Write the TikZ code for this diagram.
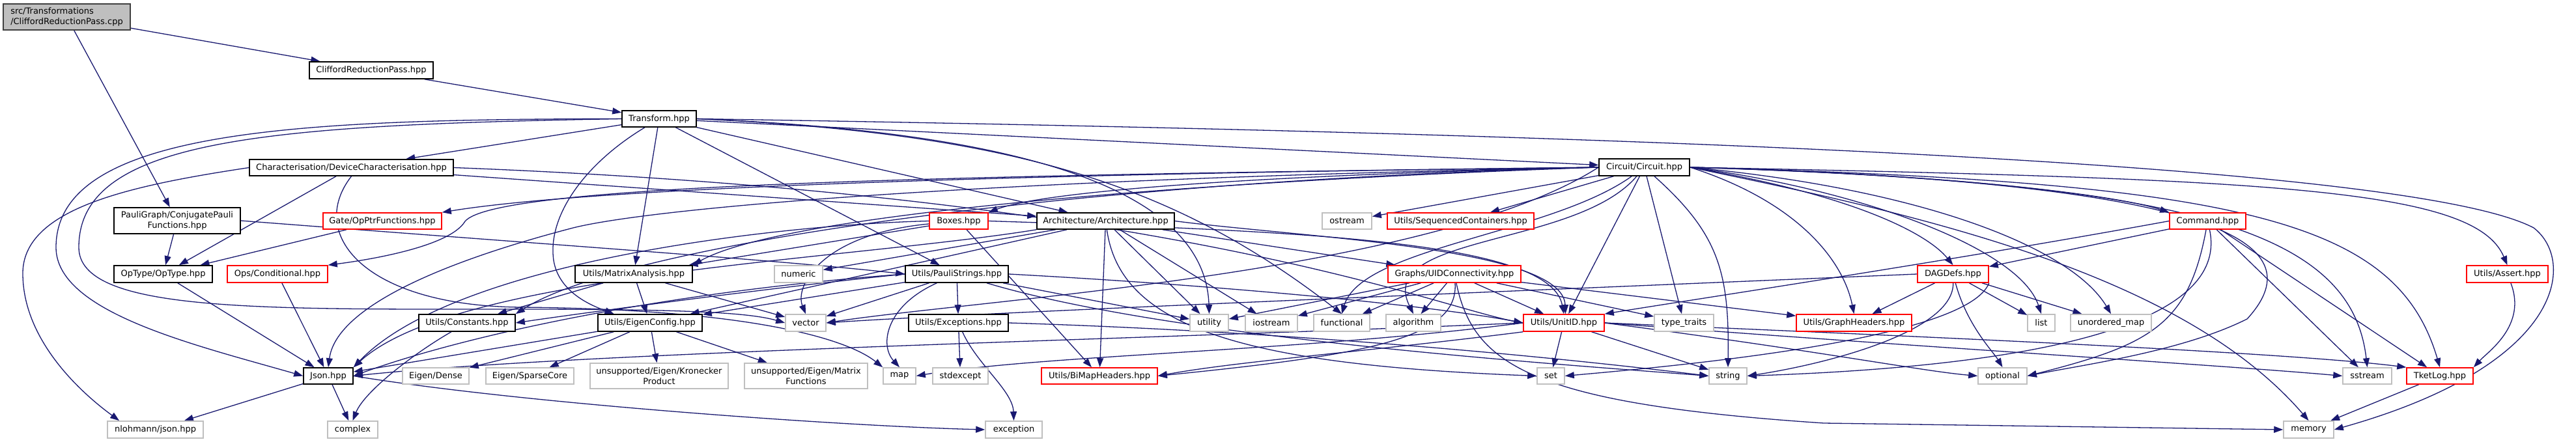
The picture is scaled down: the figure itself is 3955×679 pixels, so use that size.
\documentclass[tikz,border=0pt]{standalone}
\usepackage{fontspec}
\setmainfont{DejaVu Sans}
\usetikzlibrary{arrows.meta}
\pgfdeclarelayer{back}
\pgfdeclarelayer{bg}
\pgfsetlayers{back,bg,main}
\definecolor{edgec}{HTML}{191970}
\definecolor{redc}{HTML}{FF0000}
\definecolor{grayc}{HTML}{BFBFBF}
\begin{document}
\begin{tikzpicture}[x=1pt,y=1pt,
  n/.style={draw=black, line width=1.6pt, fill=white, inner sep=0pt, font=\fontsize{13}{15.5}\selectfont, align=center, text=black},
  rn/.style={n, draw=redc},
  gn/.style={n, draw=grayc},
  rootn/.style={n, fill=grayc, draw=black!75, align=left},
  e/.style={draw=edgec, line width=1.3pt, -{Triangle[length=14pt,width=10pt]}}]
\useasboundingbox (0,0) rectangle (3955,-679);
\begin{pgfonlayer}{back}
\fill[white] (0,0) rectangle (3955,-679);
\end{pgfonlayer}
% row 1-4
\node[rootn, minimum width=195pt, minimum height=40pt] (cpp) at (102.5,-26) {src/Transformations\\/CliffordReductionPass.cpp};
\node[n, minimum width=190pt, minimum height=26pt] (crph) at (570,-108) {CliffordReductionPass.hpp};
\node[n, minimum width=114pt, minimum height=25pt] (transform) at (1012,-182.5) {Transform.hpp};
\node[n, minimum width=313pt, minimum height=25pt] (devchar) at (539.5,-257.5) {Characterisation/DeviceCharacterisation.hpp};
\node[n, minimum width=139pt, minimum height=26pt] (circuit) at (2524.5,-257) {Circuit/Circuit.hpp};
% row 5
\node[n, minimum width=194pt, minimum height=40pt] (pgcpf) at (272,-339) {PauliGraph/ConjugatePauli\\Functions.hpp};
\node[rn, minimum width=182pt, minimum height=25pt] (opptr) at (587,-339.5) {Gate/OpPtrFunctions.hpp};
\node[rn, minimum width=90pt, minimum height=25pt] (boxes) at (1472,-339.5) {Boxes.hpp};
\node[n, minimum width=211pt, minimum height=25pt] (arch) at (1697.5,-339.5) {Architecture/Architecture.hpp};
\node[gn, minimum width=76pt, minimum height=25pt] (ostream) at (2068,-339.5) {ostream};
\node[rn, minimum width=225pt, minimum height=25pt] (seqc) at (2242.5,-339.5) {Utils/SequencedContainers.hpp};
\node[rn, minimum width=117pt, minimum height=25pt] (command) at (3389.5,-339.5) {Command.hpp};
% row 6
\node[n, minimum width=151pt, minimum height=26pt] (optype) at (250.5,-421) {OpType/OpType.hpp};
\node[rn, minimum width=154pt, minimum height=26pt] (cond) at (426,-421) {Ops/Conditional.hpp};
\node[n, minimum width=180pt, minimum height=26pt] (matan) at (973,-421) {Utils/MatrixAnalysis.hpp};
\node[gn, minimum width=74pt, minimum height=26pt] (numeric) at (1226,-421) {numeric};
\node[n, minimum width=158pt, minimum height=26pt] (pauli) at (1469,-421) {Utils/PauliStrings.hpp};
\node[rn, minimum width=204pt, minimum height=26pt] (uidc) at (2233,-421) {Graphs/UIDConnectivity.hpp};
\node[rn, minimum width=109pt, minimum height=26pt] (dag) at (2998.5,-421) {DAGDefs.hpp};
\node[rn, minimum width=125pt, minimum height=26pt] (assert) at (3849.5,-421) {Utils/Assert.hpp};
% row 7
\node[n, minimum width=148pt, minimum height=26pt] (consts) at (717,-496) {Utils/Constants.hpp};
\node[n, minimum width=160pt, minimum height=26pt] (eigcfg) at (998,-496) {Utils/EigenConfig.hpp};
\node[gn, minimum width=62pt, minimum height=26pt] (vector) at (1237,-496) {vector};
\node[n, minimum width=153pt, minimum height=26pt] (except) at (1471.5,-496) {Utils/Exceptions.hpp};
\node[gn, minimum width=59pt, minimum height=26pt] (utility) at (1856.5,-496) {utility};
\node[gn, minimum width=80pt, minimum height=26pt] (iostream) at (1952,-496) {iostream};
\node[gn, minimum width=86pt, minimum height=26pt] (functional) at (2060,-496) {functional};
\node[gn, minimum width=84pt, minimum height=26pt] (algorithm) at (2170,-496) {algorithm};
\node[rn, minimum width=124pt, minimum height=26pt] (unitid) at (2401,-496) {Utils/UnitID.hpp};
\node[gn, minimum width=91pt, minimum height=26pt] (typetraits) at (2585.5,-496) {type\_traits};
\node[rn, minimum width=177pt, minimum height=26pt] (graphh) at (2846.5,-496) {Utils/GraphHeaders.hpp};
\node[gn, minimum width=42pt, minimum height=26pt] (list) at (3134,-496) {list};
\node[gn, minimum width=124pt, minimum height=26pt] (umap) at (3241,-496) {unordered\_map};
% row 8
\node[n, minimum width=76pt, minimum height=25pt] (json) at (504,-577.5) {Json.hpp};
\node[gn, minimum width=102pt, minimum height=25pt] (edense) at (669,-577.5) {Eigen/Dense};
\node[gn, minimum width=135pt, minimum height=25pt] (esparse) at (813.5,-577.5) {Eigen/SparseCore};
\node[gn, minimum width=212pt, minimum height=39pt] (ekron) at (1012,-577.5) {unsupported/Eigen/Kronecker\\Product};
\node[gn, minimum width=189pt, minimum height=39pt] (emfun) at (1237.5,-577.5) {unsupported/Eigen/Matrix\\Functions};
\node[gn, minimum width=50pt, minimum height=25pt] (map) at (1381,-577.5) {map};
\node[gn, minimum width=85pt, minimum height=25pt] (stdexcept) at (1474.5,-577.5) {stdexcept};
\node[rn, minimum width=178pt, minimum height=25pt] (bimap) at (1688,-577.5) {Utils/BiMapHeaders.hpp};
\node[gn, minimum width=42pt, minimum height=25pt] (set) at (2381,-577.5) {set};
\node[gn, minimum width=58pt, minimum height=25pt] (string) at (2653,-577.5) {string};
\node[gn, minimum width=75pt, minimum height=25pt] (optional) at (3074.5,-577.5) {optional};
\node[gn, minimum width=75pt, minimum height=25pt] (sstream) at (3634.5,-577.5) {sstream};
\node[rn, minimum width=102pt, minimum height=25pt] (tketlog) at (3746,-577.5) {TketLog.hpp};
% row 9
\node[gn, minimum width=147pt, minimum height=26pt] (nlohmann) at (238.5,-660) {nlohmann/json.hpp};
\node[gn, minimum width=77pt, minimum height=26pt] (complex) at (541.5,-660) {complex};
\node[gn, minimum width=87pt, minimum height=26pt] (exception) at (1556.5,-660) {exception};
\node[gn, minimum width=77pt, minimum height=26pt] (memory) at (3544.5,-660) {memory};

\begin{pgfonlayer}{bg}
% root
\draw[e] (cpp) -- (crph);
\draw[e] (cpp) -- (pgcpf);
\draw[e] (crph) -- (transform);
% Transform
\draw[e] (transform) -- (devchar);
\draw[e] (transform) -- (circuit);
\draw[e] (transform) -- (arch);
\draw[e] (transform) -- (matan);
\draw[e] (transform) -- (pauli);
\draw[e] (transform.west) .. controls (450,-183) and (86,-200) .. (86,-380) .. controls (86,-480) and (300,-530) .. (json.west);
\draw[e] (transform.west) .. controls (400,-192) and (121,-215) .. (121,-380) .. controls (121,-480) and (400,-475) .. (800,-475) .. controls (1050,-475) and (1150,-480) .. (vector.west);
\draw[e] (transform.east) .. controls (1500,-200) and (1850,-270) .. (utility.north);
\draw[e] (transform.east) .. controls (1550,-205) and (1800,-280) .. (functional.north);
\draw[e] (transform.east) .. controls (2500,-205) and (3700,-250) .. (3890,-350) .. controls (3955,-400) and (3940,-560) .. (memory.east);
\draw[e] (transform) .. controls (900,-250) and (840,-330) .. (850,-400) .. controls (858,-450) and (910,-470) .. (eigcfg.166);
% DeviceCharacterisation
\draw[e] (devchar) -- (arch);
\draw[e] (devchar.east) .. controls (1800,-300) and (2200,-470) .. (unitid.west);
\draw[e] (devchar) -- (optype);
\draw[e] (devchar.south) .. controls (470,-360) and (560,-470) .. (800,-472) .. controls (1150,-475) and (1300,-520) .. (map.north west);
\draw[e] (devchar.west) .. controls (200,-285) and (35,-320) .. (35,-420) .. controls (35,-520) and (120,-600) .. (nlohmann.166);
% PauliGraph / Gate / Ops / OpType
\draw[e] (pgcpf) -- (optype);
\draw[e] (pgcpf.east) .. controls (900,-380) and (1200,-400) .. (pauli.west);
\draw[e] (opptr) -- (optype);
\draw[e] (optype) -- (json);
\draw[e] (cond) -- (json);
% Circuit
\draw[e] (circuit.west) .. controls (1900,-270) and (1600,-295) .. (boxes.north east);
\draw[e] (circuit.west) .. controls (1500,-268) and (900,-290) .. (opptr.north east);
\draw[e] (circuit.west) .. controls (1400,-270) and (760,-285) .. (714,-340) .. controls (690,-380) and (560,-400) .. (cond.north east);
\draw[e] (circuit.west) .. controls (1500,-275) and (1000,-320) .. (880,-350) .. controls (650,-410) and (515,-480) .. (json.north);
\draw[e] (circuit.west) .. controls (1600,-280) and (950,-380) .. (consts.north east);
\draw[e] (circuit.west) .. controls (1800,-280) and (1200,-330) .. (matan.north east);
\draw[e] (circuit) -- (unitid);
\draw[e] (circuit) -- (typetraits);
\draw[e] (circuit) .. controls (2640,-360) and (2655,-420) .. (string.north);
\draw[e] (circuit.east) .. controls (2760,-310) and (2830,-400) .. (graphh.north);
\draw[e] (circuit.east) .. controls (2850,-300) and (2960,-360) .. (dag.north);
\draw[e] (circuit.east) .. controls (3000,-268) and (3250,-300) .. (command.north west);
\draw[e] (circuit.east) .. controls (3500,-275) and (3800,-290) .. (assert.north);
\draw[e] (circuit.east) .. controls (3450,-280) and (3680,-340) .. (tketlog.north);
\draw[e] (circuit.east) .. controls (3350,-280) and (3610,-350) .. (sstream.north);
\draw[e] (circuit.east) .. controls (3400,-280) and (3560,-370) .. (3450,-490) .. controls (3350,-540) and (3200,-560) .. (optional.east);
\draw[e] (circuit.east) .. controls (2950,-330) and (3350,-420) .. (memory.north);
\draw[e] (circuit.east) .. controls (2850,-290) and (3100,-380) .. (list.north);
\draw[e] (circuit.east) .. controls (2950,-290) and (3180,-380) .. (umap.north);
\draw[e] (circuit) -- (ostream);
\draw[e] (circuit) -- (seqc);
\draw[e] (circuit) .. controls (2420,-380) and (2110,-360) .. (algorithm.north);
\draw[e] (circuit) .. controls (2380,-360) and (2090,-380) .. (functional.north);
\draw[e] (circuit.west) .. controls (2200,-420) and (1500,-460) .. (vector.east);
% Boxes
\draw[e] (boxes) -- (matan);
\draw[e] (boxes) -- (bimap);
\draw[e] (boxes) .. controls (1260,-360) and (1220,-440) .. (vector.north);
\draw[e] (boxes.west) .. controls (1200,-345) and (700,-400) .. (json.north east);
\draw[e] (boxes.east) .. controls (2000,-355) and (2380,-370) .. (unitid.north);
% Architecture
\draw[e] (arch.east) .. controls (2000,-365) and (2400,-380) .. (unitid.80);
\draw[e] (arch) -- (uidc);
\draw[e] (arch) -- (utility);
\draw[e] (arch) -- (iostream);
\draw[e] (arch) -- (bimap);
\draw[e] (arch) -- (numeric);
\draw[e] (arch) -- (eigcfg);
\draw[e] (arch.south west) .. controls (1300,-400) and (700,-420) .. (json.north east);
\draw[e] (arch) .. controls (1720,-500) and (1900,-560) .. (set.west);
% MatrixAnalysis
\draw[e] (matan) -- (consts);
\draw[e] (matan) -- (eigcfg);
\draw[e] (matan) -- (vector);
% PauliStrings
\draw[e] (pauli) -- (eigcfg);
\draw[e] (pauli) -- (vector);
\draw[e] (pauli) -- (except);
\draw[e] (pauli) .. controls (1360,-470) and (1350,-530) .. (map.north);
\draw[e] (pauli) -- (utility);
\draw[e] (pauli.east) .. controls (1900,-440) and (2200,-470) .. (unitid.west);
\draw[e] (pauli.west) .. controls (1000,-450) and (700,-520) .. (json.east);
\draw[e] (pauli.west) .. controls (1200,-440) and (900,-480) .. (consts.east);
\draw[e] (pauli) .. controls (1800,-520) and (2400,-560) .. (string.west);
% Exceptions
\draw[e] (except) -- (stdexcept);
\draw[e] (except) .. controls (1500,-560) and (1555,-600) .. (exception.north);
\draw[e] (except.east) .. controls (2000,-510) and (2400,-550) .. (string.west);
% UIDConnectivity
\draw[e] (uidc) -- (functional);
\draw[e] (uidc) -- (algorithm);
\draw[e] (uidc) -- (unitid);
\draw[e] (uidc) -- (typetraits);
\draw[e] (uidc) -- (graphh);
\draw[e] (uidc) -- (iostream);
\draw[e] (uidc) -- (utility);
\draw[e] (uidc) .. controls (2240,-520) and (2100,-545) .. (bimap.east);
\draw[e] (uidc) .. controls (2262,-560) and (2350,-620) .. (2800,-650) -- (memory.west);
% UnitID
\draw[e] (unitid) -- (set);
\draw[e] (unitid) -- (string);
\draw[e] (unitid.west) .. controls (1800,-520) and (900,-540) .. (json.east);
\draw[e] (unitid.west) .. controls (2000,-540) and (1600,-545) .. (map.east);
\draw[e] (unitid.south west) .. controls (2100,-540) and (1900,-555) .. (bimap.east);
\draw[e] (unitid.east) .. controls (2900,-515) and (3500,-540) .. (tketlog.north west);
\draw[e] (unitid.east) .. controls (2900,-530) and (3400,-560) .. (sstream.west);
\draw[e] (unitid.east) .. controls (2800,-540) and (2950,-570) .. (optional.west);
% DAGDefs
\draw[e] (dag) -- (graphh);
\draw[e] (dag) -- (list);
\draw[e] (dag) -- (umap);
\draw[e] (dag) .. controls (3020,-500) and (3060,-540) .. (optional.north);
\draw[e] (dag) .. controls (3000,-510) and (2800,-560) .. (string.east);
\draw[e] (dag.south east) .. controls (3020,-520) and (2600,-560) .. (set.east);
\draw[e] (dag.west) .. controls (2500,-440) and (1500,-480) .. (vector.east);
% Command
\draw[e] (command) -- (dag);
\draw[e] (command.west) .. controls (3000,-400) and (2600,-460) .. (unitid.north east);
\draw[e] (command) -- (tketlog);
\draw[e] (command) -- (sstream);
\draw[e] (command) .. controls (3360,-500) and (3300,-530) .. (optional.east);
\draw[e] (command) .. controls (3420,-480) and (3200,-560) .. (string.east);
% Assert, TketLog
\draw[e] (assert) .. controls (3880,-500) and (3820,-540) .. (tketlog.north east);
\draw[e] (tketlog) -- (memory);
% Json, Constants, EigenConfig
\draw[e] (json) -- (nlohmann);
\draw[e] (json) -- (complex);
\draw[e] (json.east) .. controls (800,-620) and (1300,-655) .. (exception.west);
\draw[e] (consts) .. controls (640,-540) and (560,-600) .. (complex.north);
\draw[e] (eigcfg) -- (json);
\draw[e] (eigcfg) -- (edense);
\draw[e] (eigcfg) -- (esparse);
\draw[e] (eigcfg) -- (ekron);
\draw[e] (eigcfg) -- (emfun);
\end{pgfonlayer}
\end{tikzpicture}
\end{document}
